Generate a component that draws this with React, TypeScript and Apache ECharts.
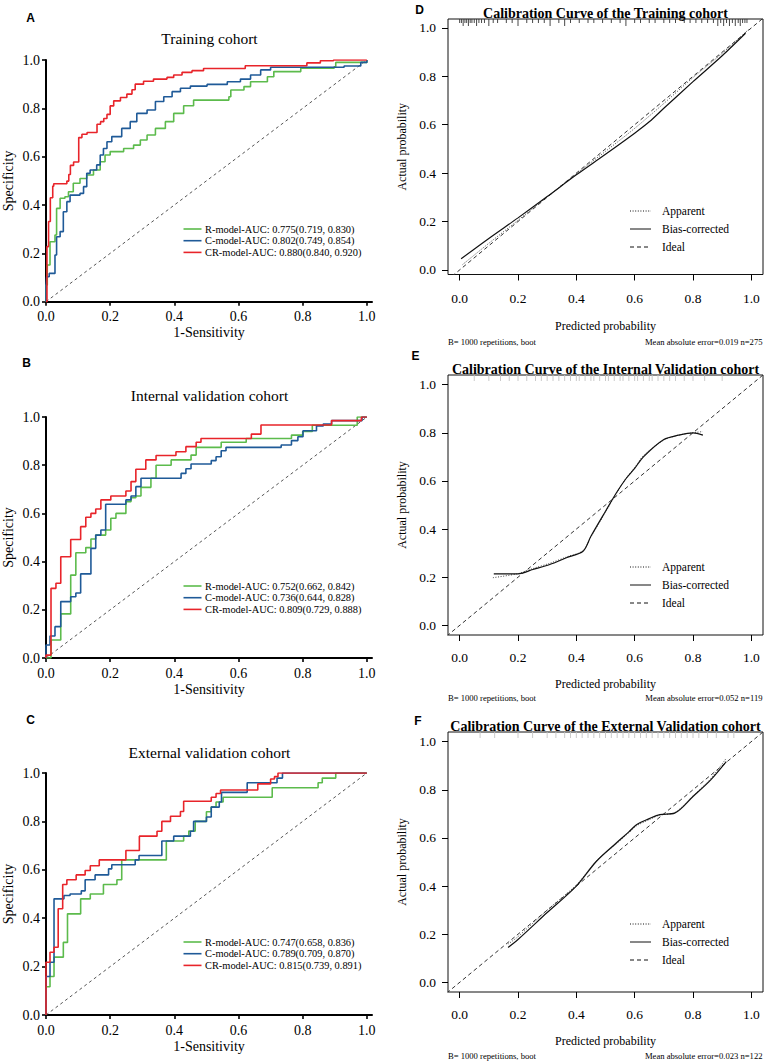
import React, { useEffect, useRef } from "react";
import * as echarts from "echarts";

// ---------------- tick values ----------------
const rocTicks = [0, 0.2, 0.4, 0.6, 0.8, 1.0];
const calTicks = [0, 0.2, 0.4, 0.6, 0.8, 1.0];

// ---------------- ROC curves: [1-Sensitivity, Specificity] at each step ----------------
const trainR = [[0,0],[0,0.069],[0.004,0.152],[0.0125,0.248],[0.028,0.276],[0.033,0.386],[0.044,0.428],[0.059,0.434],[0.07,0.455],[0.085,0.49],[0.106,0.51],[0.127,0.524],[0.148,0.545],[0.169,0.579],[0.184,0.607],[0.2,0.621],[0.242,0.634],[0.273,0.648],[0.294,0.669],[0.315,0.69],[0.341,0.717],[0.372,0.745],[0.398,0.779],[0.429,0.811],[0.46,0.834],[0.57,0.848],[0.576,0.876],[0.617,0.89],[0.6375,0.91],[0.69,0.931],[0.71,0.952],[0.794,0.966],[0.898,0.972],[0.903,0.99],[1,0.997],[1,1]];
const trainC = [[0,0],[0,0.069],[0.002,0.103],[0.01,0.117],[0.028,0.193],[0.033,0.269],[0.044,0.29],[0.054,0.372],[0.065,0.414],[0.075,0.441],[0.106,0.448],[0.117,0.476],[0.127,0.531],[0.1375,0.545],[0.158,0.566],[0.169,0.607],[0.179,0.634],[0.19,0.662],[0.205,0.683],[0.236,0.717],[0.2625,0.745],[0.283,0.779],[0.315,0.793],[0.341,0.828],[0.367,0.848],[0.393,0.869],[0.419,0.883],[0.45,0.892],[0.502,0.899],[0.565,0.91],[0.606,0.921],[0.6375,0.938],[0.669,0.959],[0.7,0.97],[0.929,0.975],[0.981,0.99],[1,1]];
const trainCR = [[0,0],[0.003,0.228],[0.008,0.332],[0.0135,0.43],[0.021,0.478],[0.024,0.488],[0.065,0.499],[0.071,0.526],[0.076,0.564],[0.086,0.578],[0.102,0.679],[0.112,0.693],[0.128,0.7],[0.159,0.734],[0.17,0.745],[0.18,0.758],[0.19,0.775],[0.2,0.81],[0.211,0.831],[0.232,0.845],[0.252,0.859],[0.268,0.877],[0.278,0.9],[0.304,0.912],[0.335,0.921],[0.377,0.928],[0.398,0.938],[0.424,0.949],[0.455,0.956],[0.491,0.965],[0.621,0.976],[0.813,0.988],[0.855,0.997],[0.896,1],[1,1]];

const internalR = [[0,0],[0.0156,0.075],[0.046,0.183],[0.077,0.344],[0.093,0.437],[0.124,0.458],[0.14,0.494],[0.155,0.51],[0.186,0.531],[0.202,0.58],[0.218,0.6],[0.249,0.649],[0.265,0.665],[0.28,0.672],[0.296,0.708],[0.327,0.746],[0.343,0.8],[0.39,0.822],[0.452,0.842],[0.468,0.874],[0.546,0.895],[0.624,0.911],[0.765,0.925],[0.8,0.94],[0.83,0.966],[0.97,1],[1,1]];
const internalC = [[0,0],[0,0.054],[0.0125,0.091],[0.028,0.13],[0.046,0.234],[0.077,0.254],[0.093,0.27],[0.108,0.349],[0.14,0.455],[0.155,0.51],[0.171,0.531],[0.186,0.638],[0.249,0.656],[0.265,0.672],[0.28,0.711],[0.296,0.746],[0.421,0.766],[0.436,0.785],[0.452,0.805],[0.515,0.819],[0.53,0.835],[0.546,0.86],[0.561,0.874],[0.733,0.884],[0.765,0.902],[0.785,0.918],[0.801,0.943],[0.843,0.963],[0.864,0.971],[0.89,0.985],[0.985,1],[1,1]];
const internalCR = [[0,0],[0,0.012],[0.0156,0.289],[0.031,0.31],[0.046,0.42],[0.077,0.492],[0.108,0.545],[0.124,0.584],[0.14,0.6],[0.155,0.618],[0.171,0.656],[0.202,0.672],[0.249,0.693],[0.265,0.732],[0.28,0.783],[0.311,0.822],[0.343,0.84],[0.405,0.856],[0.436,0.877],[0.468,0.895],[0.483,0.911],[0.64,0.929],[0.67,0.967],[0.89,0.985],[0.983,1],[1,1]];

const externalR = [[0,0],[0,0.117],[0.0125,0.159],[0.025,0.239],[0.054,0.3],[0.067,0.418],[0.108,0.48],[0.138,0.5],[0.179,0.539],[0.221,0.559],[0.236,0.641],[0.375,0.719],[0.429,0.739],[0.445,0.76],[0.465,0.8],[0.5,0.84],[0.515,0.86],[0.53,0.88],[0.552,0.9],[0.705,0.939],[0.848,0.96],[0.861,0.979],[0.903,1],[1,1]];
const externalC = [[0,0],[0,0.159],[0.0125,0.218],[0.025,0.48],[0.056,0.494],[0.075,0.5],[0.11,0.513],[0.122,0.559],[0.153,0.579],[0.195,0.604],[0.205,0.621],[0.278,0.641],[0.29,0.659],[0.361,0.719],[0.398,0.739],[0.45,0.759],[0.46,0.8],[0.5,0.818],[0.515,0.859],[0.54,0.88],[0.547,0.92],[0.627,0.96],[0.72,0.979],[0.737,1],[1,1]];
const externalCR = [[0,0],[0,0.218],[0.0125,0.259],[0.025,0.28],[0.038,0.439],[0.052,0.539],[0.065,0.559],[0.094,0.579],[0.122,0.597],[0.138,0.617],[0.166,0.641],[0.249,0.68],[0.291,0.739],[0.346,0.759],[0.361,0.8],[0.388,0.821],[0.419,0.841],[0.429,0.883],[0.515,0.9],[0.53,0.915],[0.544,0.93],[0.66,0.955],[0.7,0.975],[0.712,0.985],[0.723,1],[1,1]];

const legendTrain = ["R-model-AUC: 0.775(0.719, 0.830)", "C-model-AUC: 0.802(0.749, 0.854)", "CR-model-AUC: 0.880(0.840, 0.920)"];
const legendInternal = ["R-model-AUC: 0.752(0.662, 0.842)", "C-model-AUC: 0.736(0.644, 0.828)", "CR-model-AUC: 0.809(0.729, 0.888)"];
const legendExternal = ["R-model-AUC: 0.747(0.658, 0.836)", "C-model-AUC: 0.789(0.709, 0.870)", "CR-model-AUC: 0.815(0.739, 0.891)"];
const rocTitles = ["Training cohort", "Internal validation cohort", "External validation cohort"];
const rocLetters = ["A", "B", "C"];

// ---------------- calibration curves ----------------
const calDx = [0.005, 0.1, 0.2, 0.3, 0.4, 0.5, 0.6, 0.65, 0.7, 0.8, 0.9, 0.98];
const calDbias = [0.046, 0.13, 0.215, 0.303, 0.393, 0.478, 0.565, 0.612, 0.668, 0.778, 0.885, 0.978];
const calDappX = [0.01, 0.1, 0.2, 0.3, 0.4, 0.5, 0.6, 0.7, 0.8, 0.9, 0.99];
const calDapp = [0.022, 0.11, 0.205, 0.302, 0.397, 0.49, 0.585, 0.688, 0.795, 0.895, 0.993];

const calEx = [0.117, 0.2, 0.251, 0.309, 0.366, 0.423, 0.45, 0.5, 0.537, 0.57, 0.6, 0.63, 0.7, 0.75, 0.8, 0.834];
const calEbias = [0.214, 0.214, 0.232, 0.253, 0.281, 0.308, 0.37, 0.474, 0.55, 0.609, 0.652, 0.7, 0.772, 0.79, 0.8, 0.79];
const calEappX = [0.114, 0.2, 0.251, 0.309, 0.366, 0.423, 0.45, 0.5, 0.537, 0.57, 0.6, 0.63, 0.7, 0.75, 0.8, 0.834];
const calEapp = [0.198, 0.215, 0.236, 0.258, 0.284, 0.31, 0.368, 0.47, 0.548, 0.61, 0.655, 0.705, 0.77, 0.79, 0.8, 0.805];

const calFx = [0.166, 0.2, 0.3, 0.4, 0.469, 0.537, 0.58, 0.606, 0.65, 0.686, 0.737, 0.8, 0.86, 0.914];
const calFbias = [0.145, 0.178, 0.29, 0.4, 0.503, 0.579, 0.625, 0.655, 0.68, 0.697, 0.703, 0.772, 0.84, 0.917];
const calFapp = [0.159, 0.19, 0.3, 0.405, 0.505, 0.575, 0.622, 0.65, 0.676, 0.695, 0.705, 0.775, 0.845, 0.931];

// distribution of predicted probabilities (rug along the top)
const rugD = [0.0,0.006,0.012,0.018,0.024,0.03,0.036,0.042,0.05,0.058,0.066,0.075,0.085,0.1,0.115,0.13,0.16,0.18,0.2,0.23,0.25,0.27,0.29,0.31,0.34,0.36,0.38,0.41,0.44,0.46,0.49,0.52,0.55,0.57,0.6,0.62,0.65,0.67,0.7,0.72,0.74,0.77,0.79,0.81,0.83,0.85,0.87,0.885,0.895,0.905,0.915,0.925,0.935,0.945,0.955,0.962,0.97,0.978,0.985];
const rugDTall = [0.012, 0.03, 0.058, 0.1, 0.2, 0.31, 0.36, 0.57, 0.885, 0.905, 0.925, 0.945, 0.962];
const rugE = [0.05,0.1,0.14,0.17,0.2,0.23,0.26,0.28,0.3,0.32,0.34,0.36,0.38,0.4,0.41,0.43,0.45,0.46,0.48,0.5,0.51,0.53,0.55,0.56,0.58,0.6,0.61,0.63,0.65,0.66,0.68,0.7,0.72,0.74,0.77,0.8,0.84,0.9];
const rugF = [0.07,0.12,0.2,0.25,0.3,0.33,0.36,0.38,0.4,0.42,0.44,0.46,0.48,0.5,0.52,0.54,0.56,0.58,0.6,0.62,0.64,0.66,0.68,0.7,0.72,0.74,0.76,0.78,0.8,0.82,0.85,0.88,0.92,0.94];

const calTitles = ["Calibration Curve of the Training cohort", "Calibration Curve of the Internal Validation cohort", "Calibration Curve of the External Validation cohort"];
const calLetters = ["D", "E", "F"];
const calLegendNames = ["Apparent", "Bias-corrected", "Ideal"];
const calFooterLeft = "B= 1000 repetitions, boot";
const calFooterRight = ["Mean absolute error=0.019 n=275", "Mean absolute error=0.052 n=119", "Mean absolute error=0.023 n=122"];

// ---------------- styling / layout ----------------
const SERIF = "Liberation Serif";
const SANS = "Liberation Sans";
const COLORS = ["#5cbb4c", "#1f5a98", "#e8242a"];

const rocLayout = [
  { top: 60, height: 241.7, titleY: 38, letterX: 30.5, letterY: 18 },
  { top: 417, height: 241, titleY: 395, letterX: 26.5, letterY: 363 },
  { top: 773, height: 242, titleY: 752, letterX: 30.5, letterY: 720 },
];
const calLayout = [
  { top: 19, height: 255.5, ymin: -0.019, ymax: 1.037, titleY: 13, letterX: 419.5, letterY: 10, footY: 342, labelMargin: 17, nameGap: 45 },
  { top: 375, height: 260, ymin: -0.04, ymax: 1.04, titleY: 369.5, letterX: 415.5, letterY: 356, footY: 698, labelMargin: 15, nameGap: 43 },
  { top: 732, height: 260, ymin: -0.04, ymax: 1.04, titleY: 726, letterX: 418, letterY: 721, footY: 1056, labelMargin: 15, nameGap: 43 },
];

function txt(x: number, y: number, text: string, size: number, family: string, weight = "normal", align = "center") {
  return {
    type: "text",
    x,
    y,
    silent: true,
    style: {
      text, fill: "#000", fontSize: size, fontFamily: family, fontWeight: weight,
      align, verticalAlign: "middle", textAlign: align, textVerticalAlign: "middle",
    },
  };
}

function buildOption() {
  const grid: any[] = [];
  const xAxis: any[] = [];
  const yAxis: any[] = [];
  const series: any[] = [];
  const graphic: any[] = [];

  const rocCurves = [
    [trainR, trainC, trainCR],
    [internalR, internalC, internalCR],
    [externalR, externalC, externalCR],
  ];
  const rocLegends = [legendTrain, legendInternal, legendExternal];
  const fmt = (v: number) => v.toFixed(1);

  rocLayout.forEach((L, i) => {
    grid.push({ left: 46, top: L.top, width: 326, height: L.height });
    xAxis.push({
      type: "value", gridIndex: i, min: 0, max: 1.016,
      axisLine: { show: true, onZero: false, lineStyle: { color: "#000", width: 2 } },
      axisTick: { show: true, length: 4, customValues: rocTicks, lineStyle: { color: "#000", width: 1.6 } },
      axisLabel: { customValues: rocTicks, formatter: fmt, fontFamily: SERIF, fontSize: 14, color: "#000", margin: 8 },
      splitLine: { show: false },
      name: "1-Sensitivity", nameLocation: "middle", nameGap: 24,
      nameTextStyle: { fontFamily: SERIF, fontSize: 14, color: "#000" },
    });
    yAxis.push({
      type: "value", gridIndex: i, min: 0, max: 1,
      axisLine: { show: true, onZero: false, lineStyle: { color: "#000", width: 2 } },
      axisTick: { show: true, length: 4, customValues: rocTicks, lineStyle: { color: "#000", width: 1.6 } },
      axisLabel: { customValues: rocTicks, formatter: fmt, fontFamily: SERIF, fontSize: 14, color: "#000", margin: 6 },
      splitLine: { show: false },
      name: "Specificity", nameLocation: "middle", nameGap: 31, nameRotate: 90,
      nameTextStyle: { fontFamily: SERIF, fontSize: 14, color: "#000" },
    });
    series.push({
      type: "line", xAxisIndex: i, yAxisIndex: i, data: [[0, 0], [1, 1]], symbol: "none", silent: true,
      lineStyle: { color: "#555", width: 1, type: [3, 3] },
    });
    rocCurves[i].forEach((curve, k) => {
      series.push({
        type: "line", name: rocLegends[i][k], xAxisIndex: i, yAxisIndex: i, data: curve,
        step: "end", symbol: "none", silent: true,
        lineStyle: { color: COLORS[k], width: 1.6 },
      });
    });
    graphic.push(txt(209.5, L.titleY, rocTitles[i], 15.5, SERIF));
    graphic.push(txt(L.letterX, L.letterY, rocLetters[i], 12, SANS, "bold"));
    rocLegends[i].forEach((name, k) => {
      const y = L.top + 169 + k * 11.7;
      graphic.push({ type: "line", silent: true, shape: { x1: 183.5, y1: y, x2: 201.5, y2: y }, style: { stroke: COLORS[k], lineWidth: 1.6 } });
      graphic.push(txt(205, y, name, 10.4, SERIF, "normal", "left"));
    });
  });

  const calBias = [
    calDx.map((x, j) => [x, calDbias[j]]),
    calEx.map((x, j) => [x, calEbias[j]]),
    calFx.map((x, j) => [x, calFbias[j]]),
  ];
  const calApp = [
    calDappX.map((x, j) => [x, calDapp[j]]),
    calEappX.map((x, j) => [x, calEapp[j]]),
    calFx.map((x, j) => [x, calFapp[j]]),
  ];
  const rugs = [rugD, rugE, rugF];
  const rugColors = ["#333", "#c4c4c4", "#c4c4c4"];
  const dashes: any[] = [[1, 1.6], "solid", [4, 3]];

  calLayout.forEach((L, c) => {
    const gi = 3 + c;
    grid.push({ left: 448, top: L.top, width: 315, height: L.height, show: true, borderColor: "#111", borderWidth: 1 });
    xAxis.push({
      type: "value", gridIndex: gi, min: -0.04, max: 1.04,
      axisLine: { show: false, onZero: false },
      axisTick: { show: true, length: 6, customValues: calTicks, lineStyle: { color: "#000", width: 1 } },
      axisLabel: { customValues: calTicks, formatter: fmt, fontFamily: SERIF, fontSize: 13.5, color: "#000", margin: L.labelMargin },
      splitLine: { show: false },
      name: "Predicted probability", nameLocation: "middle", nameGap: L.nameGap,
      nameTextStyle: { fontFamily: SERIF, fontSize: 12, color: "#000" },
    });
    yAxis.push({
      type: "value", gridIndex: gi, min: L.ymin, max: L.ymax,
      axisLine: { show: false, onZero: false },
      axisTick: { show: true, length: 6, customValues: calTicks, lineStyle: { color: "#000", width: 1 } },
      axisLabel: { customValues: calTicks, formatter: fmt, fontFamily: SERIF, fontSize: 13.5, color: "#000", margin: 12 },
      splitLine: { show: false },
      name: "Actual probability", nameLocation: "middle", nameGap: 40, nameRotate: 90,
      nameTextStyle: { fontFamily: SERIF, fontSize: 12, color: "#000" },
    });
    series.push({
      type: "line", xAxisIndex: gi, yAxisIndex: gi, data: [[-0.1, -0.1], [1.1, 1.1]], symbol: "none", silent: true, clip: true,
      lineStyle: { color: "#333", width: 1, type: [4, 3] },
    });
    series.push({
      type: "line", xAxisIndex: gi, yAxisIndex: gi, data: calApp[c], symbol: "none", silent: true, smooth: 0.3,
      lineStyle: { color: "#444", width: 1, type: [1, 1.6] },
    });
    series.push({
      type: "line", xAxisIndex: gi, yAxisIndex: gi, data: calBias[c], symbol: "none", silent: true, smooth: 0.3,
      lineStyle: { color: "#111", width: 1.2 },
    });
    const ymax = L.ymax;
    const col = rugColors[c];
    series.push({
      type: "custom", xAxisIndex: gi, yAxisIndex: gi, silent: true, clip: false,
      data: rugs[c].map((x) => [x, c === 0 && rugDTall.includes(x) ? 7 : c === 0 ? 4 : 6]),
      renderItem: (_p: any, api: any) => {
        const pt = api.coord([api.value(0), ymax]);
        return {
          type: "line",
          shape: { x1: pt[0], y1: pt[1], x2: pt[0], y2: pt[1] + api.value(1) },
          style: { stroke: col, lineWidth: 0.9 },
        };
      },
    });
    graphic.push(txt(605.5, L.titleY, calTitles[c], 14, SERIF, "bold"));
    graphic.push(txt(L.letterX, L.letterY, calLetters[c], 12, SANS, "bold"));
    calLegendNames.forEach((name, k) => {
      const y = L.top + 192 + k * 18;
      const ls: any = { stroke: "#111", lineWidth: 1 };
      if (Array.isArray(dashes[k])) ls.lineDash = dashes[k];
      graphic.push({ type: "line", silent: true, shape: { x1: 630, y1: y, x2: 651, y2: y }, style: ls });
      graphic.push(txt(662, y, name, 11.5, SERIF, "normal", "left"));
    });
    graphic.push(txt(448, L.footY, calFooterLeft, 8.6, SERIF, "normal", "left"));
    graphic.push(txt(762.5, L.footY, calFooterRight[c], 8.6, SERIF, "normal", "right"));
  });

  return { animation: false, backgroundColor: "#fff", grid, xAxis, yAxis, series, graphic };
}

export default function App() {
  const ref = useRef<HTMLDivElement>(null);
  useEffect(() => {
    if (!ref.current) return;
    const chart = echarts.init(ref.current, undefined, { renderer: "svg" });
    chart.setOption(buildOption() as any);
    return () => chart.dispose();
  }, []);
  return (
    <div
      ref={ref}
      style={{ position: "absolute", left: 0, top: 0, width: 767, height: 1063, background: "#fff" }}
    />
  );
}
